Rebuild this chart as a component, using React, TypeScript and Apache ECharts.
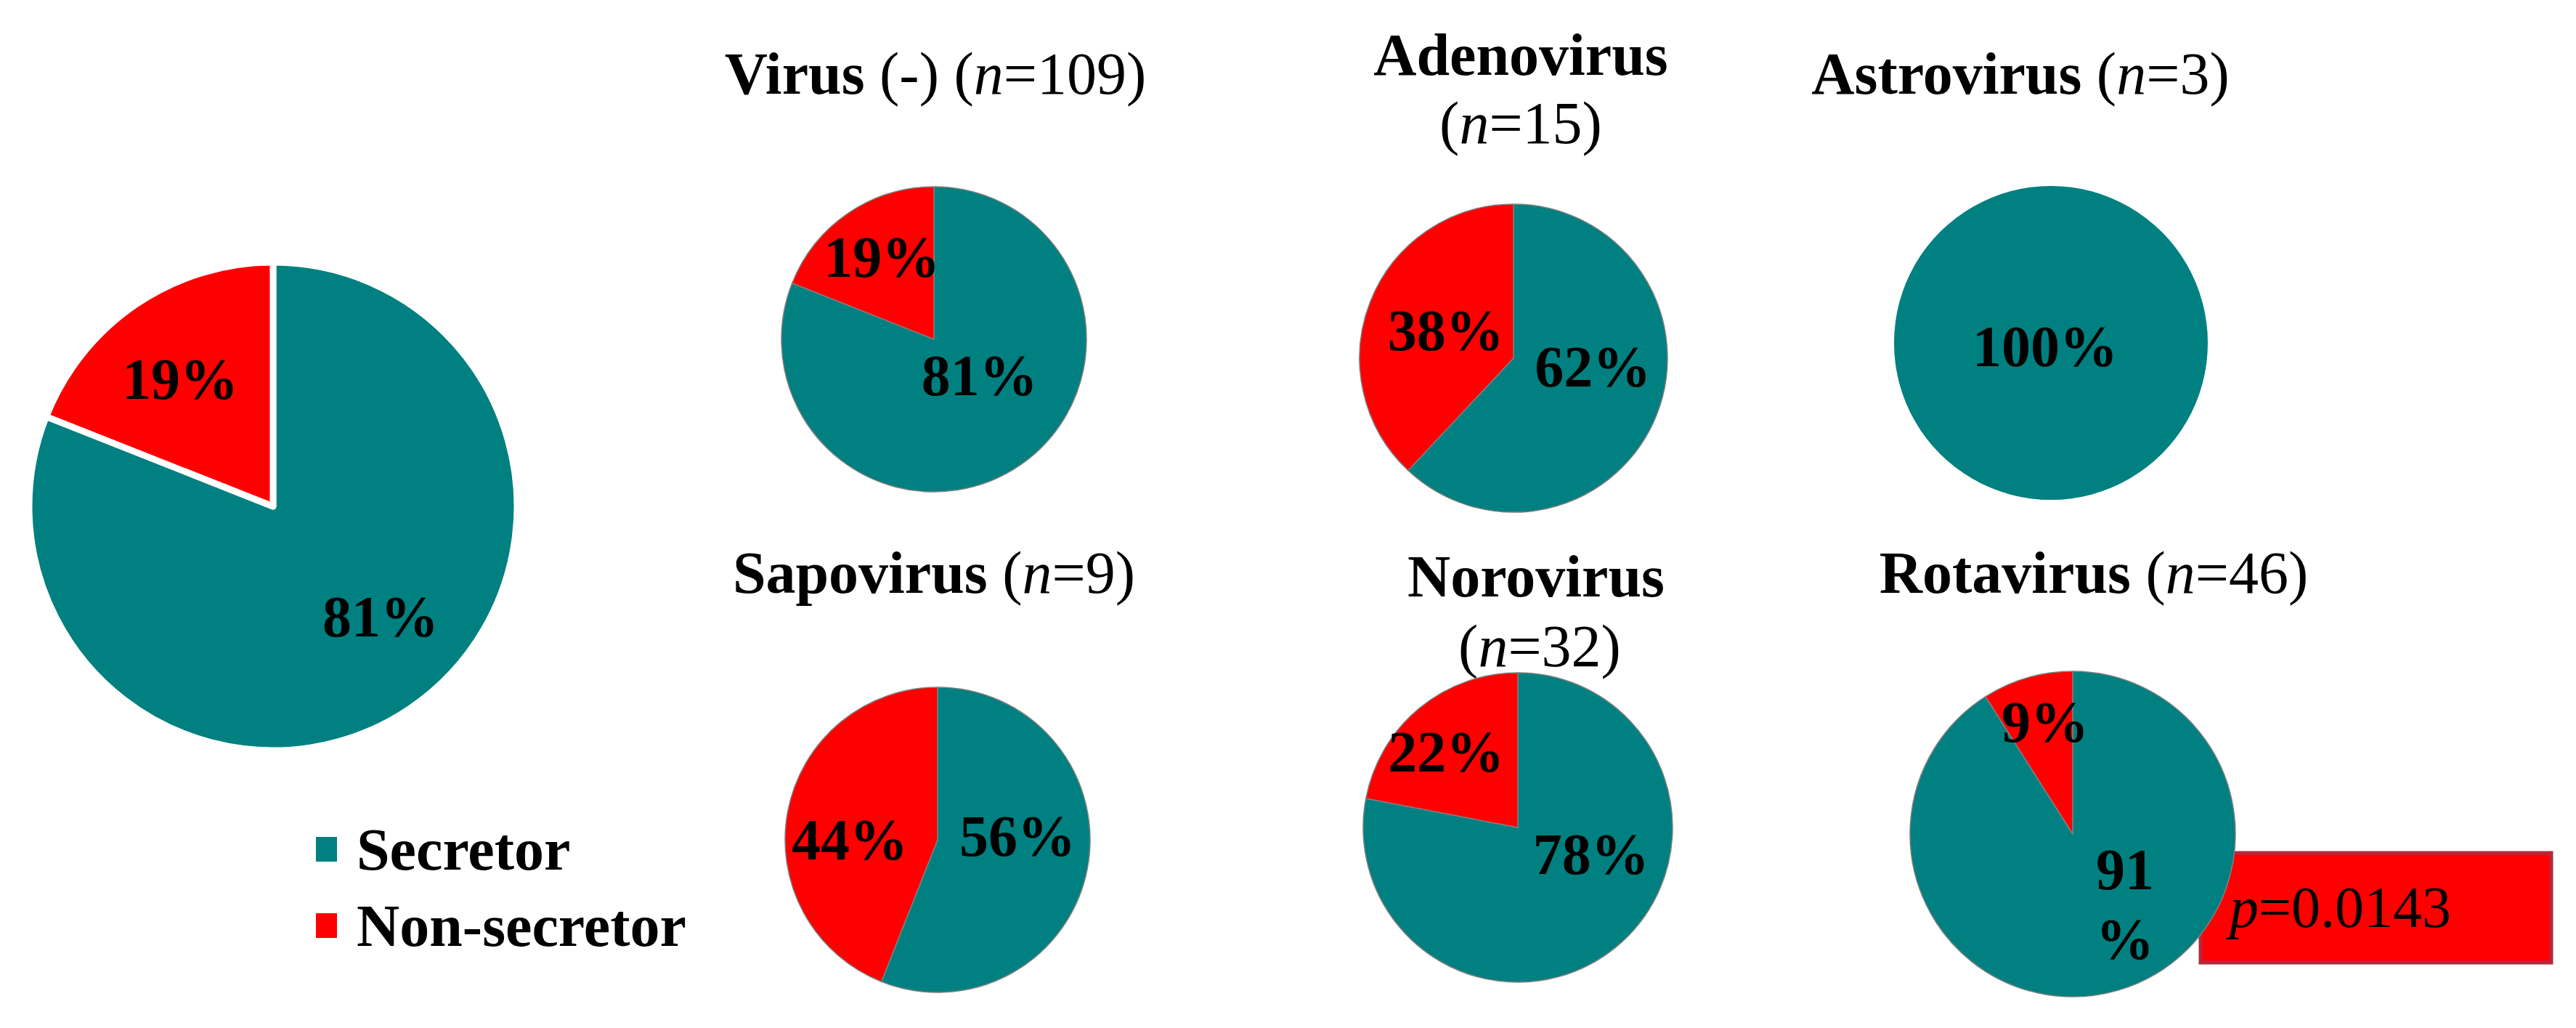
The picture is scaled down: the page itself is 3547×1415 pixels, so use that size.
import React, { useEffect, useRef } from "react";
import * as echarts from "echarts";

// ---------------- data ----------------
const categories = ["Secretor", "Non-secretor"];
const groupBold = ["", "Virus", "Adenovirus", "Astrovirus", "Sapovirus", "Norovirus", "Rotavirus"];
const groupSuffix = ["", " (-)", "", "", "", "", ""];
const groupN = [0, 109, 15, 3, 9, 32, 46];
const secretorPct = [81, 81, 62, 100, 56, 78, 91];
const nonSecretorPct = [19, 19, 38, 0, 44, 22, 9];
const pValue = "0.0143";

// ---------------- layout / style ----------------
const W = 3547;
const H = 1415;
const TEAL = "#008080";
const RED = "#FF0000";
const FONT = "'Liberation Serif', 'Times New Roman', serif";
const TITLE_SIZE = 82;
const LABEL_SIZE = 80;

type PieLayout = {
  center: [number, number];
  r: number;
  border: string;
  bw: number;
  pos: "inside" | "center";
  off: [number, number][];
  wrapFirst?: boolean;
};

const pieLayout: PieLayout[] = [
  { center: [376, 697], r: 336, border: "#ffffff", bw: 9, pos: "inside", off: [[52, 11], [-32, -34]] },
  { center: [1286, 467], r: 210, border: "#7f7f7f", bw: 1.5, pos: "inside", off: [[2, -39], [-11, -24]] },
  { center: [2084, 493], r: 212, border: "#7f7f7f", bw: 1.5, pos: "inside", off: [[8, -28], [8, 2]] },
  { center: [2824, 472], r: 216, border: "#7f7f7f", bw: 0, pos: "center", off: [[-8, 5], [0, 0]] },
  { center: [1291, 1156], r: 210, border: "#7f7f7f", bw: 1.5, pos: "inside", off: [[4, -25], [-15, 20]] },
  { center: [2090, 1139], r: 213, border: "#7f7f7f", bw: 1.5, pos: "inside", off: [[31, -47], [-29, -20]] },
  { center: [2854, 1148], r: 224, border: "#7f7f7f", bw: 1.5, pos: "inside", off: [[40, -13], [-6, -44]], wrapFirst: true },
];

// title anchor: x per line, y (middle) per line; two lines => name / (n=..)
const titleLayout: ({ x: number[]; y: number[] } | null)[] = [
  null,
  { x: [1288], y: [101] },
  { x: [2094, 2094], y: [75, 169] },
  { x: [2782], y: [101] },
  { x: [1286], y: [788] },
  { x: [2115, 2120], y: [793, 889] },
  { x: [2883], y: [788] },
];

const richTitle = {
  b: { fontFamily: FONT, fontSize: TITLE_SIZE, fontWeight: "bold", fill: "#000" },
  r: { fontFamily: FONT, fontSize: TITLE_SIZE, fontWeight: "normal", fill: "#000" },
  i: { fontFamily: FONT, fontSize: TITLE_SIZE, fontWeight: "normal", fontStyle: "italic", fill: "#000" },
};

function buildTitles(): any[] {
  const out: any[] = [];
  titleLayout.forEach((tl, gi) => {
    if (!tl) return;
    const namePart = `{b|${groupBold[gi]}}` + (groupSuffix[gi] ? `{r|${groupSuffix[gi]}}` : "");
    const nPart = `{r|(}{i|n}{r|=${groupN[gi]})}`;
    const lines = tl.y.length === 1 ? [namePart + "{r| }" + nPart] : [namePart, nPart];
    lines.forEach((txt, li) => {
      out.push({
        type: "text",
        x: tl.x[li],
        y: tl.y[li],
        silent: true,
        style: {
          text: txt,
          rich: richTitle,
          align: "center",
          verticalAlign: "middle",
          fontFamily: FONT,
          fontSize: TITLE_SIZE,
          fill: "#000",
        },
      });
    });
  });
  return out;
}

function buildSeries(): any[] {
  return pieLayout.map((pl, gi) => {
    const vals = [secretorPct[gi], nonSecretorPct[gi]];
    return {
      type: "pie",
      name: gi === 0 ? "All" : groupBold[gi],
      center: pl.center,
      radius: pl.r,
      startAngle: 90,
      clockwise: true,
      avoidLabelOverlap: false,
      silent: true,
      itemStyle: { borderColor: pl.border, borderWidth: pl.bw },
      label: {
        show: true,
        position: pl.pos,
        formatter: "{c}%",
        fontFamily: FONT,
        fontSize: LABEL_SIZE,
        fontWeight: "bold",
        color: "#000",
      },
      labelLine: { show: false },
      labelLayout: (params: any) => {
        const o = pl.off[params.dataIndex] || [0, 0];
        return { dx: o[0], dy: o[1] };
      },
      data: categories.map((c, ci) => {
        const item: any = {
          name: c,
          value: vals[ci],
          itemStyle: { color: ci === 0 ? TEAL : RED },
        };
        if (vals[ci] === 0) item.label = { show: false };
        if (ci === 0 && pl.wrapFirst) item.label = { formatter: "{c}\n%", lineHeight: 96 };
        return item;
      }),
    };
  });
}

export default function App() {
  const ref = useRef<HTMLDivElement>(null);
  useEffect(() => {
    if (!ref.current) return;
    const chart = echarts.init(ref.current, undefined, { renderer: "svg", width: W, height: H });
    chart.setOption({
      animation: false,
      backgroundColor: "#ffffff",
      legend: {
        orient: "vertical",
        left: 428,
        top: 1123,
        icon: "rect",
        itemWidth: 31,
        itemHeight: 36,
        itemGap: 23,
        selectedMode: false,
        data: categories,
        textStyle: {
          fontFamily: FONT,
          fontSize: 82,
          fontWeight: "bold",
          lineHeight: 82,
          color: "#000",
          padding: [0, 0, 0, 21],
        },
      },
      series: buildSeries(),
      graphic: [
        ...buildTitles(),
        {
          type: "rect",
          silent: true,
          shape: { x: 3030, y: 1174, width: 483, height: 151 },
          style: { fill: RED, stroke: "#b3283f", lineWidth: 5 },
        },
        {
          type: "text",
          silent: true,
          x: 3070,
          y: 1249,
          style: {
            text: `{i|p}{r|=${pValue}}`,
            rich: {
              i: { fontFamily: FONT, fontSize: 80, fontStyle: "italic", fill: "#000" },
              r: { fontFamily: FONT, fontSize: 80, fill: "#000" },
            },
            align: "left",
            verticalAlign: "middle",
            fontFamily: FONT,
            fontSize: 80,
            fill: "#000",
          },
        },
      ],
    });
    return () => chart.dispose();
  }, []);
  return (
    <div
      ref={ref}
      style={{ position: "absolute", left: 0, top: 0, width: W, height: H, background: "#fff" }}
    />
  );
}
